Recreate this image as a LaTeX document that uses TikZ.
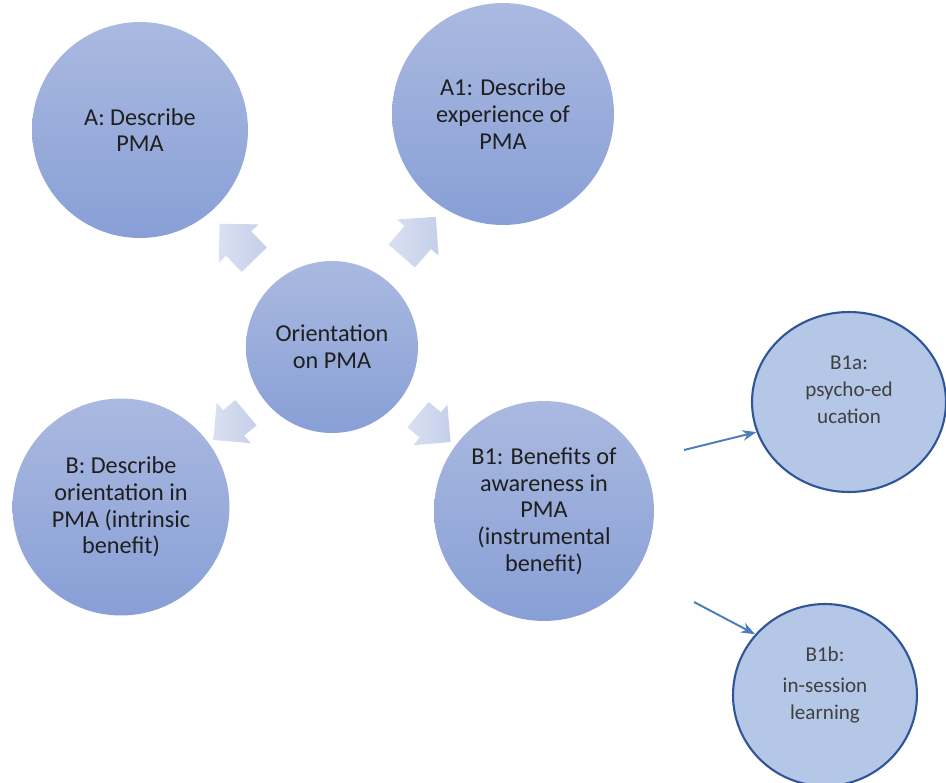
\documentclass[tikz,border=0pt]{standalone}
\usepackage{fontspec}
\setmainfont{Carlito}
\usetikzlibrary{arrows.meta,positioning,shapes.geometric,shapes.arrows}
\tikzset{
  >=Stealth,
  every picture/.append style={line width=0.6pt},
}
\tikzset{
  topic/.style={circle, draw=none, top color=circtop, bottom color=circbot, align=center, text=black!88, inner sep=0pt, font=\fontsize{13.8}{15.2}\selectfont},
  subtopic/.style={ellipse, draw=subborder, line width=1.2pt, fill=subfill, inner sep=0pt},
  subtext/.style={align=center, text=black!75, font=\fontsize{12}{15.5}\selectfont},
  blockarrow/.style={single arrow, draw=none, single arrow tip angle=90, single arrow head extend=0.2cm, inner xsep=0pt, inner ysep=0.34cm, left color=arrowlight, right color=arrowdark},
  link/.style={-{Stealth[length=8pt,width=6pt]}, draw=linkblue, line width=1.1pt}
}

\begin{document}
\begin{tikzpicture}[x=0.02cm, y=-0.02cm]
% Color definitions
\definecolor{circtop}{RGB}{170,185,224}
\definecolor{circbot}{RGB}{136,159,214}
\definecolor{subfill}{RGB}{180,199,231}
\definecolor{subborder}{RGB}{47,85,151}
\definecolor{arrowlight}{RGB}{218,224,241}
\definecolor{arrowdark}{RGB}{196,207,234}
\definecolor{linkblue}{RGB}{74,126,187}

\useasboundingbox (0,0) rectangle (946,782);
\clip (0,0) rectangle (946,782);

% Main topics
\node[topic, minimum size=4.32cm] (descr) at (140,130) {A: Describe\\PMA};
\node[topic, minimum size=4.44cm] (exper) at (503,114) {A1: Describe\\experience of\\PMA};
\node[topic, minimum size=3.44cm] (orient) at (332,347) {Orientation\\on PMA};
\node[topic, minimum size=4.34cm] (intrin) at (121,507) {B: Describe\\orientation in\\PMA (intrinsic\\benefit)};
\node[topic, minimum size=4.4cm] (instr) at (544,511) {B1: Benefits of\\awareness in\\PMA\\(instrumental\\benefit)};

% Block arrows round the centre
\node[blockarrow, minimum height=1.0cm, rotate=134] (arrNW) at (243,248) {};
\node[blockarrow, minimum height=1.04cm, rotate=49] (arrNE) at (413,243) {};
\node[blockarrow, minimum height=0.85cm, inner ysep=0.32cm, rotate=220] (arrSW) at (236,421) {};
\node[blockarrow, minimum height=0.85cm, inner ysep=0.32cm, rotate=-40] (arrSE) at (428,423) {};

% Sub-topics
\node[subtopic, minimum width=3.88cm, minimum height=3.6cm] (psyed) at (849,402) {};
\node[subtext] (psyed-text) at (849,390) {B1a:\\psycho-ed\\ucation};
\node[subtopic, minimum width=3.68cm, minimum height=3.64cm] (insess) at (825,695) {};
\node[subtext] (insess-text) at (825,685) {B1b:\\[2pt]in-session\\learning};

% Links
\coordinate (fromA) at (684,450);
\coordinate (fromB) at (694,602);
\draw[link] (fromA) -- (psyed.198);
\draw[link] (fromB) -- (insess.139);
\end{tikzpicture}
\end{document}
